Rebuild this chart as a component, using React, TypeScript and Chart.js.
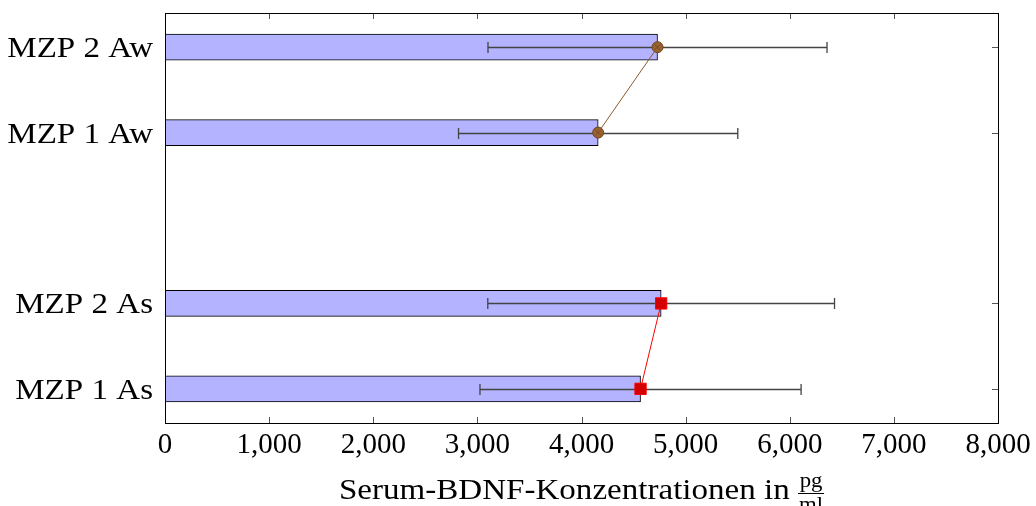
import React, { useEffect, useRef } from "react";
import { Chart, registerables } from "chart.js";

Chart.register(...registerables);

const categoryLabels = ["MZP 1 As", "MZP 2 As", "MZP 1 Aw", "MZP 2 Aw"];
const categoryPositions = [0, 1, 3, 4];
const meanValues = [4567, 4765, 4160, 4730];
const errorValues = [1542, 1665, 1341, 1628];
const xTicks = [0, 1000, 2000, 3000, 4000, 5000, 6000, 7000, 8000];
const axisTitle = "Serum-BDNF-Konzentrationen in ";
const unitNum = "pg";
const unitDen = "ml";

const FONT = "'Liberation Serif', 'DejaVu Serif', serif";
const TEXT_SIZE = 29;
const TEXT_STRETCH = 1.14;

const framePlugin = {
  id: "frameTicks",
  beforeDatasetsDraw(chart: any) {
    const { ctx, chartArea: a, scales } = chart;
    ctx.save();
    ctx.strokeStyle = "#555";
    ctx.lineWidth = 1;
    ctx.beginPath();
    const tl = 6;
    for (const v of xTicks) {
      const x = Math.round(scales.x.getPixelForValue(v)) + 0.5;
      ctx.moveTo(x, a.top);
      ctx.lineTo(x, a.top + tl);
      ctx.moveTo(x, a.bottom);
      ctx.lineTo(x, a.bottom - tl);
    }
    for (const p of categoryPositions) {
      const y = Math.round(scales.y.getPixelForValue(p)) + 0.5;
      ctx.moveTo(a.left, y);
      ctx.lineTo(a.left + tl, y);
      ctx.moveTo(a.right, y);
      ctx.lineTo(a.right - tl, y);
    }
    ctx.stroke();
    ctx.restore();
  },
  afterDatasetDraw(chart: any, args: any) {
    if (args.index !== 0) return;
    const { ctx, scales } = chart;
    ctx.save();
    ctx.strokeStyle = "#444";
    ctx.lineWidth = 1.3;
    ctx.beginPath();
    meanValues.forEach((m, i) => {
      const y = Math.round(scales.y.getPixelForValue(categoryPositions[i])) + 0.5;
      const x1 = scales.x.getPixelForValue(m - errorValues[i]);
      const x2 = scales.x.getPixelForValue(m + errorValues[i]);
      ctx.moveTo(x1, y);
      ctx.lineTo(x2, y);
      ctx.moveTo(x1, y - 5.5);
      ctx.lineTo(x1, y + 5.5);
      ctx.moveTo(x2, y - 5.5);
      ctx.lineTo(x2, y + 5.5);
    });
    ctx.stroke();
    ctx.restore();
  },
  afterDraw(chart: any) {
    const { ctx, chartArea: a, scales } = chart;
    ctx.save();
    ctx.strokeStyle = "#000";
    ctx.lineWidth = 1;
    ctx.strokeRect(Math.round(a.left) + 0.5, Math.round(a.top) + 0.5, Math.round(a.right - a.left), Math.round(a.bottom - a.top));

    // category labels (wide serif look)
    ctx.fillStyle = "#000";
    ctx.textBaseline = "alphabetic";
    ctx.textAlign = "right";
    ctx.font = `${TEXT_SIZE}px ${FONT}`;
    categoryLabels.forEach((lab, i) => {
      const y = scales.y.getPixelForValue(categoryPositions[i]) + 10;
      ctx.save();
      ctx.translate(a.left - 12, y);
      ctx.scale(TEXT_STRETCH, 1);
      ctx.fillText(lab, 0, 0);
      ctx.restore();
    });

    // axis title with fraction
    ctx.font = `${TEXT_SIZE}px ${FONT}`;
    const w1 = ctx.measureText(axisTitle).width * TEXT_STRETCH;
    ctx.font = `20px ${FONT}`;
    const wn = ctx.measureText(unitNum).width * TEXT_STRETCH;
    const wd = ctx.measureText(unitDen).width * TEXT_STRETCH;
    const wf = Math.max(wn, wd) + 2;
    const total = w1 + wf;
    const cx = (a.left + a.right) / 2;
    const x0 = cx - total / 2;
    ctx.textAlign = "left";
    ctx.font = `${TEXT_SIZE}px ${FONT}`;
    ctx.save();
    ctx.translate(x0, 499);
    ctx.scale(TEXT_STRETCH, 1);
    ctx.fillText(axisTitle, 0, 0);
    ctx.restore();
    ctx.font = `20px ${FONT}`;
    ctx.textAlign = "center";
    const fx = x0 + w1 + wf / 2;
    ctx.save();
    ctx.translate(fx, 487);
    ctx.scale(TEXT_STRETCH, 1);
    ctx.fillText(unitNum, 0, 0);
    ctx.restore();
    ctx.save();
    ctx.translate(fx, 511);
    ctx.scale(TEXT_STRETCH, 1);
    ctx.fillText(unitDen, 0, 0);
    ctx.restore();
    ctx.beginPath();
    ctx.lineWidth = 1;
    ctx.moveTo(x0 + w1, 493.5);
    ctx.lineTo(x0 + w1 + wf, 493.5);
    ctx.stroke();
    ctx.restore();
  },
};

export default function App() {
  const ref = useRef<HTMLCanvasElement | null>(null);
  useEffect(() => {
    document.body.style.margin = "0";
    const pts = meanValues.map((v, i) => ({ x: v, y: categoryPositions[i] }));
    const chart = new Chart(ref.current as HTMLCanvasElement, {
      type: "bar",
      data: {
        datasets: [
          {
            type: "bar",
            data: pts,
            indexAxis: "y",
            backgroundColor: "#b3b3ff",
            borderColor: "#000",
            borderWidth: 1,
            barThickness: 26,
            order: 3,
          } as any,
          {
            type: "line",
            data: pts.slice(0, 2),
            indexAxis: "y",
            borderColor: "#ff0000",
            borderWidth: 1,
            pointStyle: "rect",
            pointRadius: 8,
            pointBackgroundColor: "#d40000",
            pointBorderColor: "#ff0000",
            pointBorderWidth: 1,
            order: 1,
          } as any,
          {
            type: "line",
            data: pts.slice(2, 4),
            indexAxis: "y",
            borderColor: "#8a5a2a",
            borderWidth: 1,
            pointStyle: "circle",
            pointRadius: 5.5,
            pointBackgroundColor: "#9a6230",
            pointBorderColor: "#6b4520",
            pointBorderWidth: 1,
            order: 2,
          } as any,
          {
            type: "line",
            data: pts.slice(2, 4),
            indexAxis: "y",
            showLine: false,
            pointStyle: "crossRot",
            pointRadius: 4,
            pointBorderColor: "#6b4520",
            pointBorderWidth: 0.8,
            order: 0,
          } as any,
        ],
      },
      options: {
        animation: false,
        responsive: false,
        indexAxis: "y",
        layout: { padding: { top: 13, right: 38, left: 0, bottom: 0 } },
        plugins: { legend: { display: false }, tooltip: { enabled: false } },
        scales: {
          x: {
            type: "linear",
            min: 0,
            max: 8000,
            afterBuildTicks: (s: any) => {
              s.ticks = xTicks.map((v) => ({ value: v }));
            },
            afterFit: (s: any) => {
              s.height = 83;
              s.paddingLeft = 0;
              s.paddingRight = 0;
            },
            grid: { display: false, drawTicks: false },
            border: { display: false },
            ticks: {
              color: "#000",
              padding: 5,
              font: { family: FONT, size: TEXT_SIZE },
              maxRotation: 0,
              autoSkip: false,
              callback: (v: any) => Number(v).toLocaleString("en-US"),
            },
          },
          y: {
            type: "linear",
            min: -0.4,
            max: 4.4,
            offset: false,
            afterBuildTicks: (s: any) => {
              s.ticks = categoryPositions.map((v) => ({ value: v }));
            },
            afterFit: (s: any) => {
              s.width = 165;
              s.paddingTop = 0;
              s.paddingBottom = 0;
            },
            grid: { display: false, drawTicks: false, offset: false },
            border: { display: false },
            ticks: { display: false },
          },
        },
      },
      plugins: [framePlugin],
    });
    return () => chart.destroy();
  }, []);
  return (
    <div style={{ position: "absolute", left: 0, top: 0, width: 1036, height: 506 }}>
      <canvas ref={ref} width={1036} height={506} style={{ width: 1036, height: 506 }} />
    </div>
  );
}
